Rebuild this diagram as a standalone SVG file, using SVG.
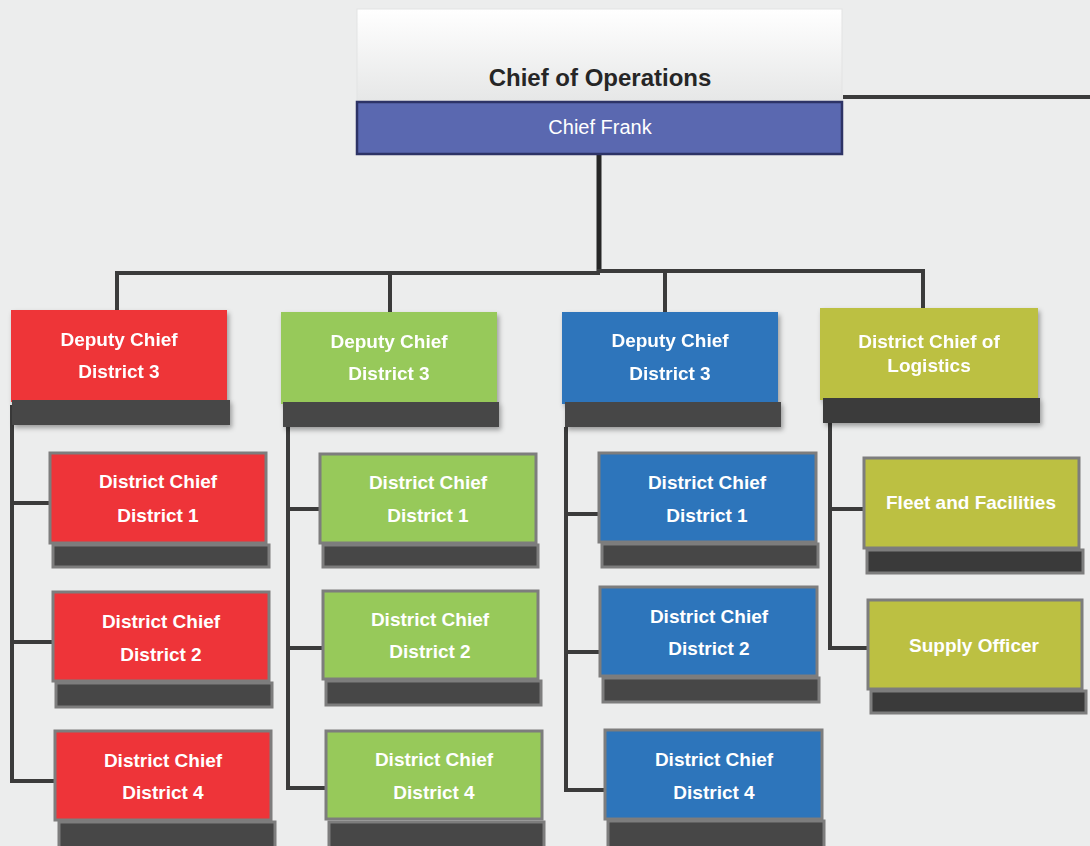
<svg xmlns="http://www.w3.org/2000/svg" width="1090" height="846" viewBox="0 0 1090 846">
<defs>
<linearGradient id="topg" x1="0" y1="0" x2="0" y2="1">
<stop offset="0" stop-color="#ffffff"/>
<stop offset="1" stop-color="#e6e7e7"/>
</linearGradient>
<filter id="sh" x="-10%" y="-10%" width="125%" height="130%">
<feDropShadow dx="2" dy="3" stdDeviation="2.5" flood-color="#000" flood-opacity="0.35"/>
</filter>
</defs>
<style>
.bg{fill:#eceded}
.ln{fill:none;stroke:#3b3b3b;stroke-width:4;stroke-linejoin:miter}
.trunk{fill:none;stroke:#262626;stroke-width:5}
.red{fill:#ee3439}
.grn{fill:#97c95a}
.blu{fill:#2d75bb}
.olv{fill:#bcc042}
.bar{fill:#474747}
.dbar{fill:#3a3a3a}
.cb{stroke:#7d7d7d;stroke-width:3}
.t{font-family:"Liberation Sans",Arial,sans-serif;font-weight:bold;font-size:19px;fill:#ffffff;text-anchor:middle}
</style>
<rect class="bg" x="0" y="0" width="1090" height="846"/>

<g id="connectors">
<path class="ln" d="M843,97 H1090"/>
<path class="trunk" d="M599,154 V272"/>
<path class="ln" d="M117,273 H600"/>
<path class="ln" d="M597,271 H925"/>
<path class="ln" d="M117,271 V310 M390,273 V312 M665,271 V312 M923,271 V308"/>
<path class="ln" d="M12,405 V781 H54 M12,503 H49 M12,642 H53"/>
<path class="ln" d="M288,427 V788 H325 M288,509 H319 M288,648 H322"/>
<path class="ln" d="M566,427 V790 H604 M566,514 H598 M566,652 H599"/>
<path class="ln" d="M830,423 V648 H867 M830,509 H863"/>
</g>

<g id="chief-operations">
<rect x="357" y="9" width="485" height="92" fill="url(#topg)" stroke="#e2e3e3" stroke-width="1"/>
<text x="600" y="86" font-family="'Liberation Sans',Arial,sans-serif" font-weight="bold" font-size="24" fill="#262626" text-anchor="middle">Chief of Operations</text>
<rect x="357" y="102" width="485" height="52" fill="#5a68b0" stroke="#2d3366" stroke-width="2.5"/>
<text x="600" y="134" font-family="'Liberation Sans',Arial,sans-serif" font-size="20" fill="#ffffff" text-anchor="middle">Chief Frank</text>
</g>

<g id="deputy-red" filter="url(#sh)">
<rect class="red" x="11" y="310" width="216" height="92"/>
<rect class="bar" x="12" y="400" width="218" height="25"/>
<text class="t" x="119" y="346">Deputy Chief</text>
<text class="t" x="119" y="378">District 3</text>
</g>
<g id="deputy-green" filter="url(#sh)">
<rect class="grn" x="281" y="312" width="216" height="92"/>
<rect class="bar" x="283" y="402" width="216" height="25"/>
<text class="t" x="389" y="348">Deputy Chief</text>
<text class="t" x="389" y="380">District 3</text>
</g>
<g id="deputy-blue" filter="url(#sh)">
<rect class="blu" x="562" y="312" width="216" height="92"/>
<rect class="bar" x="565" y="402" width="216" height="25"/>
<text class="t" x="670" y="347">Deputy Chief</text>
<text class="t" x="670" y="380">District 3</text>
</g>
<g id="chief-logistics" filter="url(#sh)">
<rect class="olv" x="820" y="308" width="218" height="92"/>
<rect class="dbar" x="823" y="398" width="217" height="25"/>
<text class="t" x="929" y="348">District Chief of</text>
<text class="t" x="929" y="372">Logistics</text>
</g>

<g id="red-d1">
<rect class="red cb" x="50" y="453" width="216" height="90"/>
<rect class="bar cb" x="53" y="545" width="216" height="22"/>
<text class="t" x="158" y="488">District Chief</text>
<text class="t" x="158" y="522">District 1</text>
</g>
<g id="red-d2">
<rect class="red cb" x="53" y="592" width="216" height="89"/>
<rect class="bar cb" x="56" y="683" width="216" height="24"/>
<text class="t" x="161" y="628">District Chief</text>
<text class="t" x="161" y="661">District 2</text>
</g>
<g id="red-d4">
<rect class="red cb" x="55" y="731" width="216" height="89"/>
<rect class="bar cb" x="59" y="822" width="216" height="26"/>
<text class="t" x="163" y="767">District Chief</text>
<text class="t" x="163" y="799">District 4</text>
</g>

<g id="green-d1">
<rect class="grn cb" x="320" y="454" width="216" height="89"/>
<rect class="bar cb" x="323" y="545" width="215" height="22"/>
<text class="t" x="428" y="489">District Chief</text>
<text class="t" x="428" y="522">District 1</text>
</g>
<g id="green-d2">
<rect class="grn cb" x="323" y="591" width="215" height="88"/>
<rect class="bar cb" x="326" y="681" width="215" height="24"/>
<text class="t" x="430" y="626">District Chief</text>
<text class="t" x="430" y="658">District 2</text>
</g>
<g id="green-d4">
<rect class="grn cb" x="326" y="731" width="216" height="88"/>
<rect class="bar cb" x="329" y="822" width="215" height="26"/>
<text class="t" x="434" y="766">District Chief</text>
<text class="t" x="434" y="799">District 4</text>
</g>

<g id="blue-d1">
<rect class="blu cb" x="599" y="453" width="217" height="89"/>
<rect class="bar cb" x="602" y="544" width="216" height="23"/>
<text class="t" x="707" y="489">District Chief</text>
<text class="t" x="707" y="522">District 1</text>
</g>
<g id="blue-d2">
<rect class="blu cb" x="600" y="587" width="217" height="89"/>
<rect class="bar cb" x="603" y="678" width="216" height="24"/>
<text class="t" x="709" y="623">District Chief</text>
<text class="t" x="709" y="655">District 2</text>
</g>
<g id="blue-d4">
<rect class="blu cb" x="605" y="730" width="217" height="89"/>
<rect class="bar cb" x="608" y="821" width="216" height="27"/>
<text class="t" x="714" y="766">District Chief</text>
<text class="t" x="714" y="799">District 4</text>
</g>

<g id="fleet">
<rect class="olv cb" x="864" y="458" width="215" height="90"/>
<rect class="dbar cb" x="867" y="550" width="216" height="23"/>
<text class="t" x="971" y="509">Fleet and Facilities</text>
</g>
<g id="supply">
<rect class="olv cb" x="868" y="600" width="214" height="89"/>
<rect class="dbar cb" x="871" y="691" width="215" height="22"/>
<text class="t" x="974" y="652">Supply Officer</text>
</g>
</svg>
